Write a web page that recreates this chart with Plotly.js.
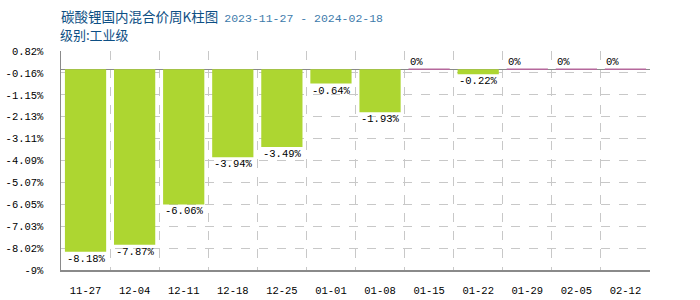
<!DOCTYPE html>
<html>
<head>
<meta charset="utf-8">
<script src="https://cdn.plot.ly/plotly-3.0.1.min.js"></script>
<style>html,body{margin:0;padding:0;background:#fff;}#chart{width:700px;height:300px;}</style>
</head>
<body>
<div id="chart"></div>
<script>
const categories = ["11-27","12-04","12-11","12-18","12-25","01-01","01-08","01-15","01-22","01-29","02-05","02-12"];
const values = [-8.18, -7.87, -6.06, -3.94, -3.49, -0.64, -1.93, 0, -0.22, 0, 0, 0];
const yTickVals = [0.82, -0.16, -1.15, -2.13, -3.11, -4.09, -5.07, -6.05, -7.03, -8.02, -9];
const yTickText = ["0.82%","-0.16%","-1.15%","-2.13%","-3.11%","-4.09%","-5.07%","-6.05%","-7.03%","-8.02%","-9%"];
const titleMain = "碳酸锂国内混合价周K柱图";
const titleDates = "2023-11-27 - 2024-02-18";
const subtitle = "级别:工业级";

const mono = "Liberation Mono, DejaVu Sans Mono, monospace";
const cjk = "Noto Sans CJK SC, sans-serif";

const lineColors = values.map(v => v === 0 ? "#b5689c" : "#add631");
const lineWidths = values.map(v => v === 0 ? 1.5 : 0);

const trace = {
  type: "bar",
  x: categories,
  y: values,
  marker: {color: "#add631", line: {color: lineColors, width: lineWidths}},
  width: 0.84,
  hoverinfo: "none"
};

const annotations = values.map((v, i) => ({
  x: categories[i], y: v, xref: "x", yref: "y",
  text: (v === 0 ? "0" : v.toFixed(2)) + "%",
  showarrow: false,
  xanchor: "left",
  yanchor: v === 0 ? "bottom" : "top",
  xshift: -21,
  yshift: v === 0 ? -1 : 1,
  font: {family: mono, size: 10.5, color: "#000"}
}));

annotations.push({
  xref: "paper", yref: "paper", x: 0, y: 1,
  xanchor: "left", yanchor: "bottom", yshift: 5, xshift: -3,
  text: subtitle, showarrow: false,
  font: {family: cjk, size: 13, color: "#0d4f84"}
});

const layout = {
  width: 700, height: 300,
  margin: {l: 61, r: 50, t: 51, b: 30, pad: 0},
  paper_bgcolor: "#fff", plot_bgcolor: "#fff",
  showlegend: false,
  title: {
    text: titleMain + "  <span style=\"font-family:" + mono + ";color:#3d7bab;font-size:11.5px\">" + titleDates + "</span>",
    x: 61/700, xanchor: "left", xref: "container",
    y: 1 - 17/300, yanchor: "middle", yref: "container",
    font: {family: cjk, size: 13.5, color: "#0d4f84"}
  },
  xaxis: {
    type: "category",
    tickson: "boundaries",
    ticks: "",
    showgrid: true, gridcolor: "#c8c8c8", griddash: "dash", gridwidth: 1,
    showline: true, linecolor: "#8a8a8a", linewidth: 1.5,
    mirror: false,
    tickfont: {family: mono, size: 10.5, color: "#000"},
    ticklabelstandoff: 10,
    range: [-0.5, 11.5],
    fixedrange: true
  },
  yaxis: {
    range: [-9, 0.82],
    tickvals: yTickVals, ticktext: yTickText,
    ticks: "",
    showgrid: true, gridcolor: "#c8c8c8", griddash: "dash", gridwidth: 1,
    showline: true, linecolor: "#8a8a8a", linewidth: 1.5,
    zeroline: true, zerolinecolor: "#8a8a8a", zerolinewidth: 1.5,
    tickfont: {family: mono, size: 10.5, color: "#000"},
    ticklabelstandoff: 14,
    fixedrange: true
  },
  annotations: annotations,
  bargap: 0.16
};

Plotly.newPlot("chart", [trace], layout, {displayModeBar: false, staticPlot: true});
</script>
</body>
</html>
